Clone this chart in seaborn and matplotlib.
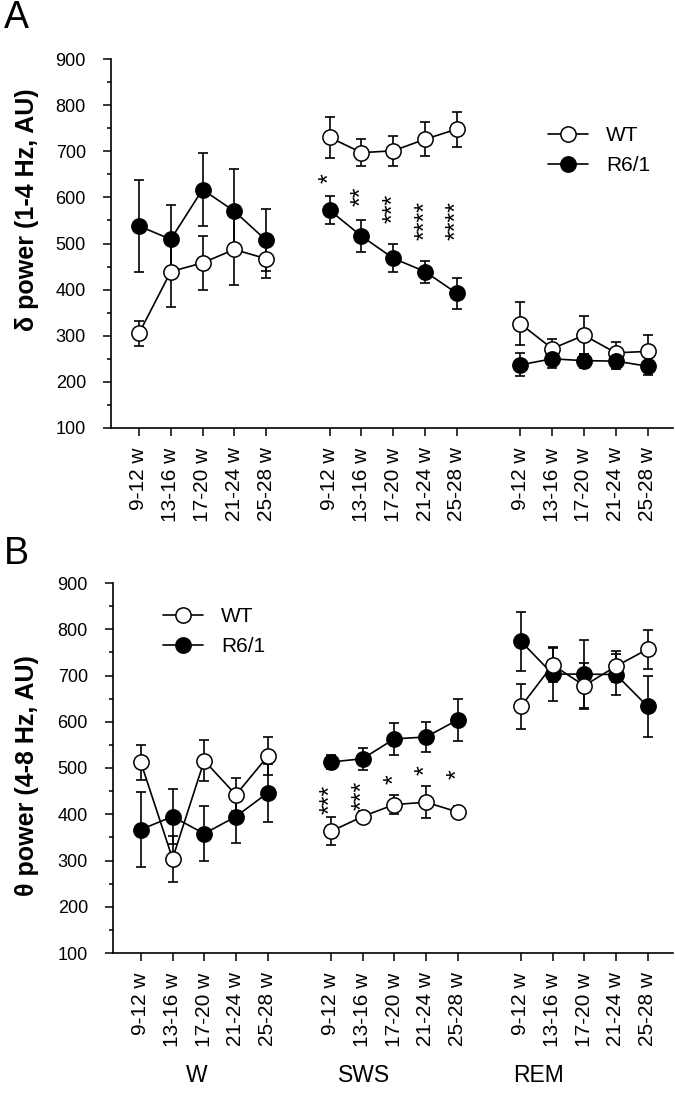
import numpy as np
import pandas as pd
import matplotlib
matplotlib.use('Agg')
import matplotlib.pyplot as plt
from matplotlib.lines import Line2D
from matplotlib.ticker import MultipleLocator
import matplotlib.transforms as mtransforms
import seaborn as sns

# data
ages = ['9-12 w', '13-16 w', '17-20 w', '21-24 w', '25-28 w']
stages = ['W', 'SWS', 'REM']

delta_wt_mean = [305, 439, 458, 487, 467, 730, 697, 701, 726, 748, 326, 272, 301, 263, 266]
delta_wt_sem = [28, 76, 59, 78, 41, 45, 30, 33, 37, 38, 47, 20, 41, 24, 35]
delta_r6_mean = [538, 509, 617, 570, 507, 572, 516, 468, 439, 392, 237, 250, 246, 245, 234]
delta_r6_sem = [100, 74, 79, 92, 67, 30, 35, 30, 24, 34, 25, 20, 15, 18, 20]

theta_wt_mean = [512, 304, 516, 442, 525, 363, 395, 421, 426, 405, 633, 723, 678, 720, 757]
theta_wt_sem = [37, 50, 45, 36, 41, 30, 12, 20, 35, 12, 49, 37, 50, 33, 42]
theta_r6_mean = [367, 395, 358, 395, 446, 513, 520, 563, 567, 604, 774, 703, 703, 702, 633]
theta_r6_sem = [81, 60, 59, 57, 63, 15, 24, 35, 32, 46, 64, 58, 74, 45, 65]

# significance marks (SWS only)
delta_stars = ['*', '**', '***', '****', '****']
delta_star_y = [641, 603, 576, 550, 550]
theta_stars = ['***', '***', '*', '*', '*']
theta_star_y = [432, 440, 475, 496, 486]

sns.set_style('ticks', {'axes.edgecolor': 'black', 'xtick.color': 'black',
                        'ytick.color': 'black', 'text.color': 'black',
                        'axes.labelcolor': 'black'})
plt.rcParams['font.family'] = ['Liberation Sans', 'DejaVu Sans']


def make_df(wt_mean, wt_sem, r6_mean, r6_sem):
    rows = []
    for g, m, s in [('WT', wt_mean, wt_sem), ('R6/1', r6_mean, r6_sem)]:
        for i, (mv, sv) in enumerate(zip(m, s)):
            st, ag = i // 5, i % 5
            rows.append(dict(group=g, stage=stages[st], age=ages[ag],
                             x=st * 6 + ag, mean=mv, sem=sv))
    return pd.DataFrame(rows)


def draw(ax, df, top_group, stars, star_y):
    for g, fc in [('WT', 'white'), ('R6/1', 'black')]:
        d = df[df.group == g]
        z = 4 if g == top_group else 3
        ax.errorbar(d.x, d['mean'], yerr=d['sem'], fmt='none', ecolor='black',
                    elinewidth=1.2, capsize=3.5, capthick=1.2, zorder=1)
        sns.lineplot(data=d, x='x', y='mean', units='stage', estimator=None,
                     sort=False, color='black', lw=1.2, marker='o', markersize=11,
                     markerfacecolor=fc, markeredgecolor='black',
                     markeredgewidth=1.1, ax=ax, zorder=z, legend=False)
    for i, (s, y) in enumerate(zip(stars, star_y)):
        ax.text(6 + i, y, s, rotation=90, ha='center', va='center', fontsize=18)

    ax.set_ylim(100, 900)
    ax.set_xlim(-0.88, 16.8)
    ax.yaxis.set_major_locator(MultipleLocator(100))
    ax.yaxis.set_minor_locator(MultipleLocator(50))
    ax.set_xticks([s * 6 + a for s in range(3) for a in range(5)])
    ax.set_xticklabels(ages * 3, rotation=90)
    ax.tick_params(axis='both', which='major', direction='out', length=6, width=1.1)
    ax.tick_params(axis='x', labelsize=15, pad=8)
    ax.tick_params(axis='y', labelsize=13, pad=12)
    ax.tick_params(axis='y', which='minor', direction='out', length=3, width=1.1)
    ax.set_xlabel('')
    ax.set_ylabel('')
    sns.despine(ax=ax)
    for sp in ['left', 'bottom']:
        ax.spines[sp].set_linewidth(1.2)


fig = plt.figure(figsize=(6.75, 11.12), dpi=100)
axA = fig.add_axes([111 / 675, 1 - 428 / 1112, 562 / 675, 369 / 1112])
axB = fig.add_axes([113 / 675, 1 - 953 / 1112, 560 / 675, 370 / 1112])

dfA = make_df(delta_wt_mean, delta_wt_sem, delta_r6_mean, delta_r6_sem)
dfB = make_df(theta_wt_mean, theta_wt_sem, theta_r6_mean, theta_r6_sem)
draw(axA, dfA, 'R6/1', delta_stars, delta_star_y)
draw(axB, dfB, 'WT', theta_stars, theta_star_y)

handles = [Line2D([], [], color='black', lw=1.2, marker='o', markersize=11,
                  markerfacecolor='white', markeredgecolor='black', markeredgewidth=1.1),
           Line2D([], [], color='black', lw=1.2, marker='o', markersize=11,
                  markerfacecolor='black', markeredgecolor='black', markeredgewidth=1.1)]
for ax, (lx, ly) in [(axA, (548, 126)), (axB, (163, 607))]:
    ax.legend(handles, ['WT', 'R6/1'], loc='upper left',
              bbox_to_anchor=(lx / 675, 1 - ly / 1112), bbox_transform=fig.transFigure,
              frameon=False, fontsize=15, handlelength=1.9, handletextpad=0.9,
              labelspacing=0.55, borderpad=0, borderaxespad=0)

fig.text(27 / 675, 1 - 210 / 1112, 'δ power (1-4 Hz, AU)', rotation=90,
         ha='center', va='center', fontsize=18, fontweight='bold')
fig.text(27 / 675, 1 - 776 / 1112, 'θ power (4-8 Hz, AU)', rotation=90,
         ha='center', va='center', fontsize=18, fontweight='bold')

fig.text(4 / 675, 1 - 18 / 1112, 'A', ha='left', va='center', fontsize=27)
fig.text(4 / 675, 1 - 554 / 1112, 'B', ha='left', va='center', fontsize=27)

trans = mtransforms.blended_transform_factory(axB.transData, fig.transFigure)
for name, xc in zip(stages, [1.76, 7.04, 12.55]):
    axB.text(xc, 1 - 1075 / 1112, name, transform=trans, ha='center',
             va='center', fontsize=16.5)

fig.savefig('out.png', dpi=100)
